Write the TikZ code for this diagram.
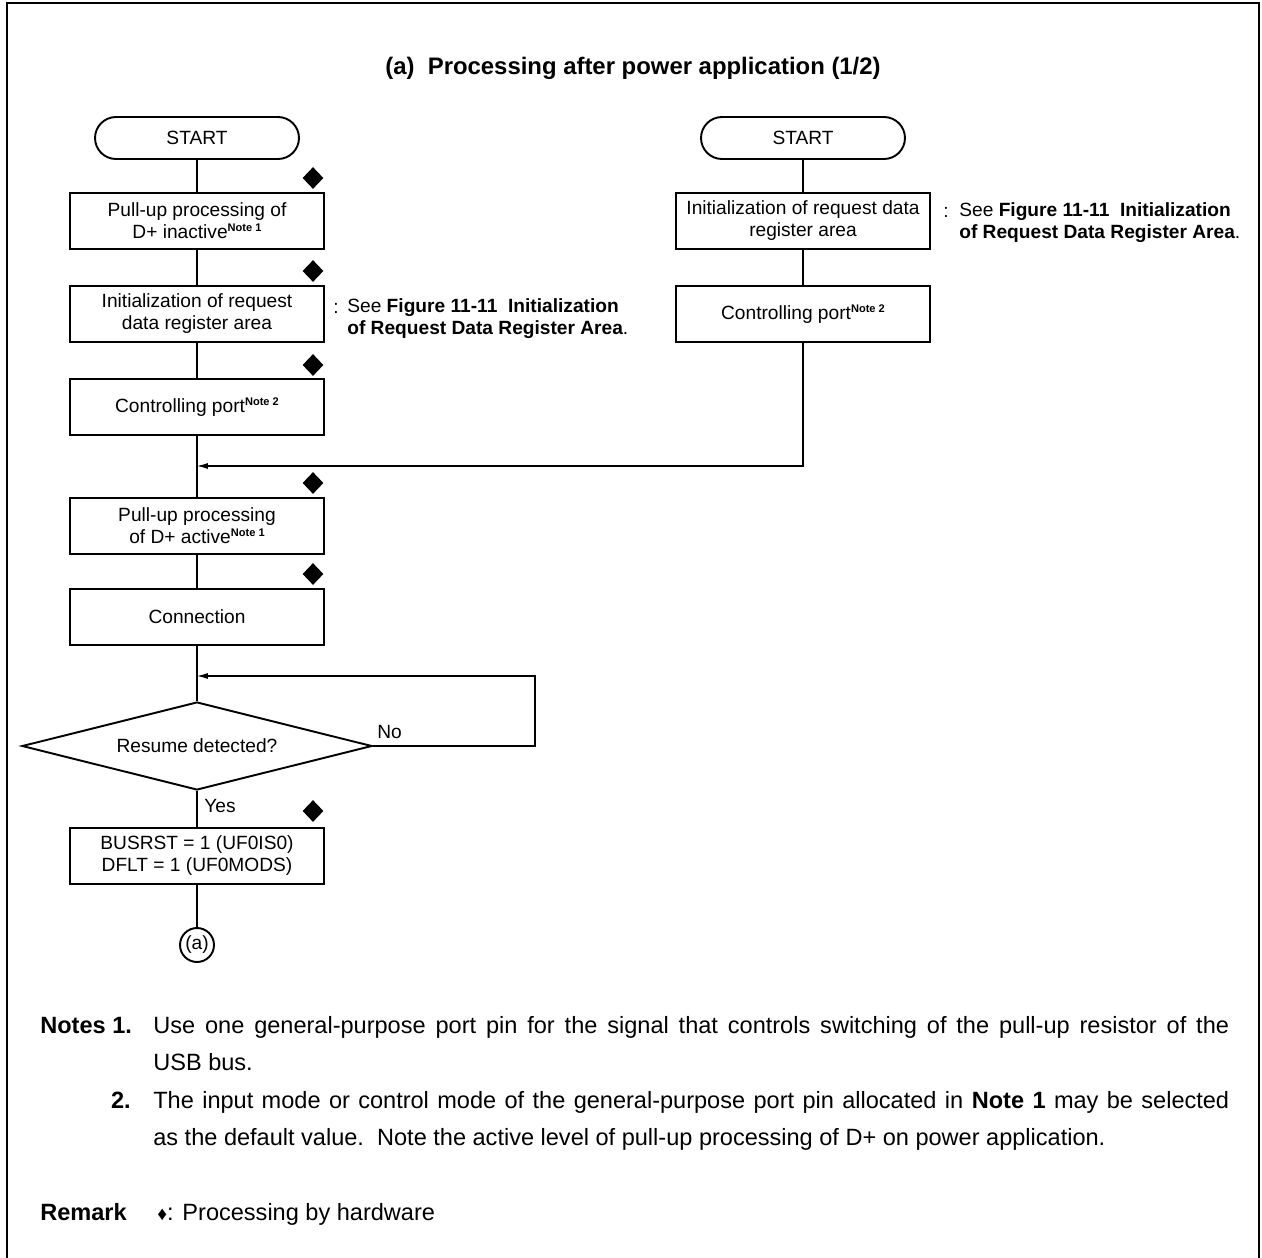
\documentclass[tikz,border=0pt]{standalone}
\usepackage{fontspec}
\setmainfont{Liberation Sans}
\usetikzlibrary{shapes.geometric,arrows.meta}
\newcommand{\boxfont}{\fontsize{10.9}{12.5}\selectfont}
\newcommand{\notefont}{\fontsize{13.4}{21.2}\selectfont}
\newcommand{\notesup}[1]{\raisebox{4pt}{\fontsize{6.3}{6.3}\selectfont\bfseries Note #1}}
\tikzset{
  process/.style={
    draw,
    line width=1.1pt,
    minimum width=5.08cm,
    minimum height=1.12cm,
    inner sep=0pt,
    align=center,
    font=\boxfont
  },
  terminal/.style={
    draw,
    line width=1.1pt,
    rounded corners=0.42cm,
    minimum width=4.08cm,
    minimum height=0.84cm,
    font=\boxfont
  },
  decision/.style={
    draw,
    shape=diamond,
    shape aspect=4,
    line width=1.1pt,
    inner sep=0pt,
    minimum width=7cm,
    minimum height=1.76cm,
    font=\boxfont
  },
  hardware/.style={
    shape=diamond,
    fill,
    inner sep=0pt,
    minimum width=0.42cm,
    minimum height=0.44cm
  },
  pageref/.style={
    draw,
    shape=circle,
    line width=1.1pt,
    inner sep=0pt,
    minimum size=0.68cm,
    font=\boxfont
  },
  flow/.style={line width=0.6pt},
  flowarrow/.style={line width=0.6pt, -{Latex[length=0.22cm,width=0.12cm]}},
  seenote/.style={font=\boxfont, align=left, inner sep=0pt},
  small label/.style={font=\boxfont, inner sep=0pt},
  notebody/.style={font=\notefont, inner sep=0pt, text width=21.52cm, align=justify},
  notehead/.style={font=\notefont\bfseries, inner sep=0pt}
}
\begin{document}
\begin{tikzpicture}[x=0.02cm,y=-0.02cm]
\useasboundingbox (0,0) rectangle (1262,1258);
\draw[line width=1.2pt] (7,1258) -- (7,3) -- (1259,3) -- (1259,1258);
\node[font=\fontsize{13.6}{16}\selectfont\bfseries] (title) at (633,68) {(a)\ \ Processing after power application (1/2)};

% left flow
\node[terminal] (startL) at (197,138) {START};
\node[process] (inactive) at (197,221) {Pull-up processing of\\D+ inactive\notesup{1}};
\node[process] (initL) at (197,314) {Initialization of request\\data register area};
\node[process] (portL) at (197,407) {Controlling port\notesup{2}};
\node[process] (active) at (197,526) {Pull-up processing\\of D+ active\notesup{1}};
\node[process] (connect) at (197,617) {Connection};
\node[decision] (resume) at (197,746) {Resume detected?};
\node[process] (busrst) at (197,856) {BUSRST = 1 (UF0IS0)\\DFLT = 1 (UF0MODS)};
\node[pageref] (pageA) at (197,945) {(a)};
\coordinate (joinA) at (197,466);
\coordinate (joinB) at (197,676);
\coordinate (loopR) at (535,746);

% right flow
\node[terminal] (startR) at (803,138) {START};
\node[process] (initR) at (803,221) {Initialization of request data\\register area};
\node[process] (portR) at (803,314) {Controlling port\notesup{2}};

\foreach \a/\b in {startL/inactive,inactive/initL,initL/portL,portL/active,active/connect,connect/resume,resume/busrst,busrst/pageA,startR/initR,initR/portR}
  \draw[flow] (\a) -- (\b);
\draw[flowarrow] (portR) |- (joinA);
\draw[flowarrow] (resume.east) -- (loopR) |- (joinB);

\foreach \y in {178,271,365,483,574,811}
  \node[hardware] (hw\y) at (313,\y) {};

\node[small label, anchor=base west] (no) at (377,738) {No};
\node[small label, anchor=base west] (yes) at (204,812) {Yes};

\node[small label, anchor=base west] (colL) at (333,313) {:};
\node[seenote, anchor=west] (seeL) at (347,319) {See \textbf{Figure 11-11\ \ Initialization}\\\textbf{of Request Data Register Area}.};
\node[small label, anchor=base west] (colR) at (943,217) {:};
\node[seenote, anchor=west] (seeR) at (959,223) {See \textbf{Figure 11-11\ \ Initialization}\\\textbf{of Request Data Register Area}.};

% notes
\node[notehead, anchor=base west] (notesHead) at (40,1033) {Notes 1.};
\node[notebody, anchor=base west] (noteOne) at (153,1033) {Use one general-purpose port pin for the signal that controls switching of the pull-up resistor of the\linebreak USB bus.};
\node[notehead, anchor=base east] (numTwo) at (131,1108) {2.};
\node[notebody, anchor=base west] (noteTwo) at (153,1108) {The input mode or control mode of the general-purpose port pin allocated in \textbf{Note 1} may be selected\linebreak as the default value.\ \ Note the active level of pull-up processing of D+ on power application.};
\node[notehead, anchor=base west] (remarkHead) at (40,1220) {Remark};
\node[font=\notefont, inner sep=0pt, anchor=base west] (remarkText) at (157,1220) {{\fontsize{11}{11}\selectfont ♦}: Processing by hardware};
\end{tikzpicture}
\end{document}
